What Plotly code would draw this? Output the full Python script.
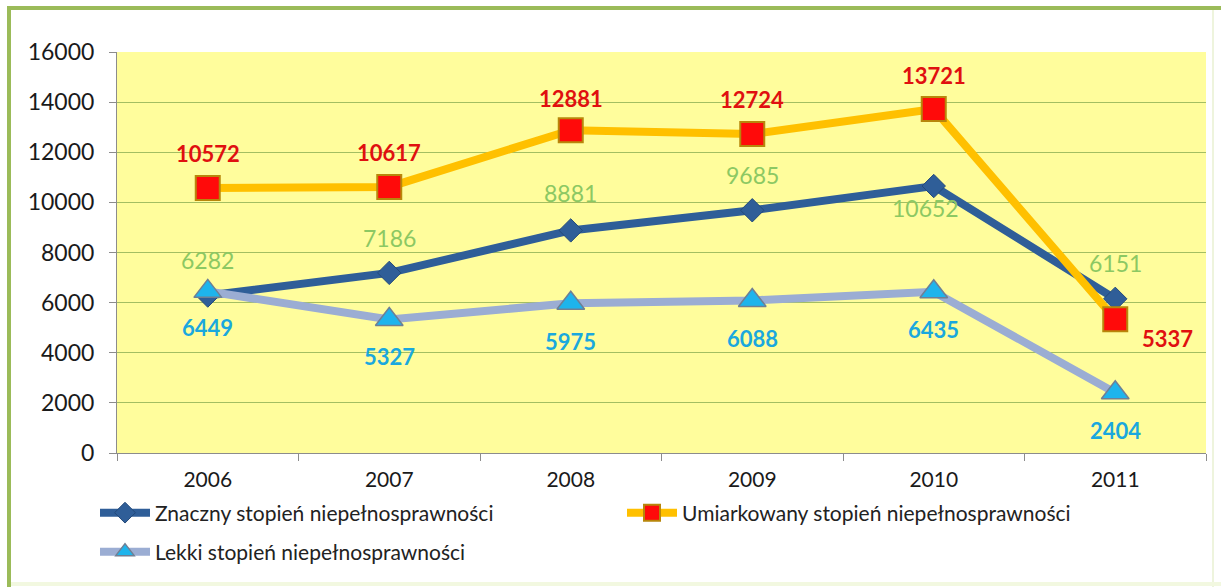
import plotly.graph_objects as go

years = ["2006", "2007", "2008", "2009", "2010", "2011"]
znaczny = [6282, 7186, 8881, 9685, 10652, 6151]
umiarkowany = [10572, 10617, 12881, 12724, 13721, 5337]
lekki = [6449, 5327, 5975, 6088, 6435, 2404]

names = ["Znaczny stopień niepełnosprawności",
         "Umiarkowany stopień niepełnosprawności",
         "Lekki stopień niepełnosprawności"]

# label offsets (pixels)
zn_shift = [(0, 36), (0, 35), (0, 37), (0, 35), (-8, -22), (0, 36)]
um_shift = [(0, 35), (0, 34), (0, 32), (0, 35), (0, 34), (52, -19)]
le_shift = [(0, -36), (0, -37), (0, -38), (0, -38), (0, -38), (0, -38)]

W_, H_ = 1221, 587
L, R, T, B = 117, 15, 52, 134
PW = W_ - L - R
PH = H_ - T - B

def px(x):
    return (x - L) / PW

def py(y):
    return (H_ - B - y) / PH

FONT = "Lato, Open Sans, sans-serif"

fig = go.Figure()
fig.add_trace(go.Scatter(
    x=years, y=znaczny, name=names[0], mode="lines+markers", legend="legend",
    line=dict(color="#2F5E98", width=8),
    marker=dict(symbol="diamond", size=18, color="#2F5E98",
                line=dict(color="#244A7A", width=1))))
fig.add_trace(go.Scatter(
    x=years, y=umiarkowany, name=names[1], mode="lines+markers", legend="legend",
    line=dict(color="#FFC000", width=8),
    marker=dict(symbol="square", size=24, color="#FF0A0A",
                line=dict(color="#B8860B", width=2))))
fig.add_trace(go.Scatter(
    x=years, y=lekki, name=names[2], mode="lines+markers", legend="legend2",
    line=dict(color="#9BADD3", width=8),
    marker=dict(symbol="triangle-up", size=24, color="#1EB4EC",
                line=dict(color="#6F7F94", width=1.5))))

ann = []
for i, (v, (dx, dy)) in enumerate(zip(znaczny, zn_shift)):
    ann.append(dict(x=i, y=v, text=str(v), showarrow=False, xshift=dx, yshift=dy,
                    font=dict(family=FONT, size=23, color="#8CC863")))
for i, (v, (dx, dy)) in enumerate(zip(umiarkowany, um_shift)):
    ann.append(dict(x=i, y=v, text="<b>%d</b>" % v, showarrow=False, xshift=dx, yshift=dy,
                    font=dict(family=FONT, size=22, color="#E01010")))
for i, (v, (dx, dy)) in enumerate(zip(lekki, le_shift)):
    ann.append(dict(x=i, y=v, text="<b>%d</b>" % v, showarrow=False, xshift=dx, yshift=dy,
                    font=dict(family=FONT, size=22, color="#1AA8DE")))

shapes = [
    dict(type="line", xref="paper", yref="paper", x0=px(7), x1=px(1221), y0=py(8), y1=py(8),
         line=dict(color="#9BBB59", width=4), layer="above"),
    dict(type="line", xref="paper", yref="paper", x0=px(9), x1=px(9), y0=py(6), y1=py(587),
         line=dict(color="#9BBB59", width=4), layer="above"),
    dict(type="line", xref="paper", yref="paper", x0=px(1213), x1=px(1213), y0=py(10), y1=py(587),
         line=dict(color="#EEF4DD", width=2), layer="above"),
    dict(type="line", xref="paper", yref="paper", x0=px(11), x1=px(1221), y0=py(584), y1=py(584),
         line=dict(color="#F2F8E0", width=4), layer="above"),
]

legfont = dict(family=FONT, size=21, color="#222222")

fig.update_layout(
    width=W_, height=H_,
    margin=dict(l=L, r=R, t=T, b=B),
    paper_bgcolor="white",
    plot_bgcolor="#FFFD9C",
    font=dict(family=FONT, size=21, color="#222222"),
    showlegend=True,
    legend=dict(orientation="h", x=px(95), xanchor="left", y=py(513), yanchor="middle",
                entrywidth=462, entrywidthmode="pixels",
                font=legfont, itemwidth=50, bgcolor="rgba(0,0,0,0)"),
    legend2=dict(orientation="h", x=px(95), xanchor="left", y=py(552), yanchor="middle",
                 font=legfont, itemwidth=50, bgcolor="rgba(0,0,0,0)"),
    annotations=ann,
    shapes=shapes,
    xaxis=dict(type="category", range=[-0.5, 5.5], showgrid=False,
               showline=True, linecolor="#8C8C8C", linewidth=1,
               ticks="outside", tickson="boundaries", ticklen=7, tickcolor="#8C8C8C",
               ticklabelstandoff=8,
               tickfont=dict(family=FONT, size=21, color="#1A1A1A")),
    yaxis=dict(range=[0, 16000], dtick=2000, tickformat="d",
               showgrid=True, gridcolor="#A3BE62", gridwidth=1,
               showline=True, linecolor="#8C8C8C", linewidth=1, zeroline=False,
               ticks="outside", ticklen=7, tickcolor="#8C8C8C",
               ticklabelstandoff=10,
               tickfont=dict(family=FONT, size=23, color="#1A1A1A")),
)

fig.write_html("out.html", config={"displayModeBar": False},
               post_script="document.body.style.margin='0';")
